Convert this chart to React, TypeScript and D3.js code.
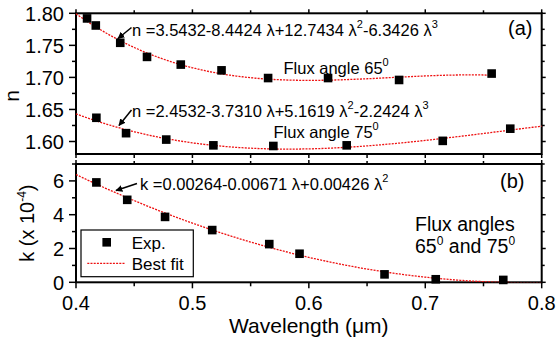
import * as d3 from 'd3';

// wavelength (um) and refractive index, flux angle 65 deg
const lambda65 = [0.4095, 0.417, 0.438, 0.461, 0.49, 0.525, 0.565, 0.6165, 0.6775, 0.757];
const n65 = [1.792, 1.781, 1.754, 1.732, 1.72, 1.711, 1.699, 1.699, 1.696, 1.706];

// flux angle 75 deg
const lambda75 = [0.4175, 0.443, 0.4775, 0.518, 0.5695, 0.6325, 0.715, 0.773];
const n75 = [1.637, 1.613, 1.603, 1.594, 1.593, 1.594, 1.601, 1.62];

// extinction coefficient k (x 10^-4)
const lambdaK = [0.4175, 0.444, 0.4765, 0.517, 0.566, 0.592, 0.665, 0.709, 0.767];
const kVals = [5.91, 4.88, 3.87, 3.09, 2.26, 1.69, 0.47, 0.18, 0.14];

// best-fit polynomial coefficients as printed on the chart
const fit65 = [3.5432, -8.4424, 12.7434, -6.3426];
const fit75 = [2.4532, -3.731, 5.1619, -2.2424];
const fitK = [0.00264, -0.00671, 0.00426];

const xTicks = [0.4, 0.5, 0.6, 0.7, 0.8];
const xMinor = [0.45, 0.55, 0.65, 0.75];
const nTicks = [1.6, 1.65, 1.7, 1.75, 1.8];
const nMinor = [1.625, 1.675, 1.725, 1.775];
const kTicks = [0, 2, 4, 6];
const kMinor = [1, 3, 5, 7];

const W = 556;
const H = 341;
const FONT = "'Liberation Sans', Arial, Helvetica, sans-serif";
const RED = '#ee1111';

const left = 76;
const right = 541.7;
const topA = 13.3;
const botA = 154;
const topB = 164;
const botB = 282.3;

const x = d3.scaleLinear().domain([0.4, 0.8]).range([left, right]);
const yN = d3.scaleLinear().domain([1.5805, 1.8]).range([botA, topA]);
const yK = d3.scaleLinear().domain([0, 7]).range([botB, topB]);

const poly = (c: number[], l: number) => c.reduce((s, a, i) => s + a * Math.pow(l, i), 0);

function Panel({ y, yt, ym, fmt, top, bot, showX }: any) {
  return (
    <g>
      <rect x={left} y={top} width={right - left} height={bot - top} fill="none" stroke="#000" strokeWidth={2} />
      {yt.map((t: number) => (
        <g key={'l' + t}>
          <line x1={left - 7} x2={left} y1={y(t)} y2={y(t)} stroke="#000" strokeWidth={1.5} />
          <line x1={right} x2={right + 4} y1={y(t)} y2={y(t)} stroke="#000" strokeWidth={1.5} />
          <text x={left - 12} y={y(t)} dy="0.36em" textAnchor="end" fontSize={20}>{fmt(t)}</text>
        </g>
      ))}
      {ym.map((t: number) => (
        <g key={'m' + t}>
          <line x1={left - 4} x2={left} y1={y(t)} y2={y(t)} stroke="#000" strokeWidth={1.5} />
          <line x1={right} x2={right + 3} y1={y(t)} y2={y(t)} stroke="#000" strokeWidth={1.5} />
        </g>
      ))}
      {xTicks.map((t) => (
        <g key={'x' + t}>
          <line x1={x(t)} x2={x(t)} y1={top} y2={top - 4} stroke="#000" strokeWidth={1.5} />
          <line x1={x(t)} x2={x(t)} y1={bot} y2={bot + (showX ? 6 : 4)} stroke="#000" strokeWidth={1.5} />
          {showX && (
            <text x={x(t)} y={bot + 28} textAnchor="middle" fontSize={20}>{t.toFixed(1)}</text>
          )}
        </g>
      ))}
      {xMinor.map((t) => (
        <g key={'xm' + t}>
          <line x1={x(t)} x2={x(t)} y1={top} y2={top - 3} stroke="#000" strokeWidth={1.5} />
          <line x1={x(t)} x2={x(t)} y1={bot} y2={bot + 4} stroke="#000" strokeWidth={1.5} />
        </g>
      ))}
    </g>
  );
}

// text with superscripts: parts alternate normal / superscript
function Rich({ parts, supSize = 11, raise = 8, ...rest }: any) {
  let up = false;
  return (
    <text {...rest}>
      {parts.map((p: string, i: number) => {
        const sup = i % 2 === 1;
        let dy = 0;
        if (sup && !up) { dy = -raise; up = true; }
        else if (!sup && up) { dy = raise; up = false; }
        return (
          <tspan key={i} dy={dy} fontSize={sup ? supSize : undefined}>{p}</tspan>
        );
      })}
    </text>
  );
}

function Markers({ xs, ys, y }: any) {
  return (
    <g>
      {xs.map((l: number, i: number) => (
        <rect key={i} x={x(l) - 4.3} y={y(ys[i]) - 4.3} width={8.6} height={8.6} fill="#000" />
      ))}
    </g>
  );
}

export default function App() {
  const line = (y: any) => d3.line<[number, number]>().x((d) => x(d[0])).y((d) => y(d[1]));
  const curve65 = d3.range(0.4, 0.7575, 0.0025).map((l) => [l, poly(fit65, l)] as [number, number]);
  const curve75 = d3.range(0.4, 0.8001, 0.0025).map((l) => [l, poly(fit75, l)] as [number, number]);
  const curveK = d3.range(0.4, 0.8001, 0.0025).map((l) => [l, poly(fitK, l) * 1e4] as [number, number]);

  return (
    <svg width={W} height={H} style={{ position: 'absolute', left: 0, top: 0, background: '#fff' }} fontFamily={FONT}>
      <defs>
        <marker id="ah" viewBox="0 0 10 10" refX="9" refY="5" markerWidth="7" markerHeight="7" orient="auto-start-reverse" markerUnits="userSpaceOnUse">
          <path d="M0,0 L10,5 L0,10 z" fill="#000" />
        </marker>
        <clipPath id="clipB">
          <rect x={left} y={topB} width={right - left} height={botB - topB} />
        </clipPath>
      </defs>

      <Panel y={yN} yt={nTicks} ym={nMinor} fmt={(t: number) => t.toFixed(2)} top={topA} bot={botA} showX={false} />
      <Panel y={yK} yt={kTicks} ym={kMinor} fmt={(t: number) => String(t)} top={topB} bot={botB} showX={true} />

      {/* fits */}
      <path d={line(yN)(curve65) || ''} fill="none" stroke={RED} strokeWidth={1.3} strokeDasharray="2 1.2" />
      <path d={line(yN)(curve75) || ''} fill="none" stroke={RED} strokeWidth={1.3} strokeDasharray="2 1.2" />
      <path d={line(yK)(curveK) || ''} fill="none" stroke={RED} strokeWidth={1.3} strokeDasharray="2 1.2" clipPath="url(#clipB)" />

      <Markers xs={lambda65} ys={n65} y={yN} />
      <Markers xs={lambda75} ys={n75} y={yN} />
      <Markers xs={lambdaK} ys={kVals} y={yK} />

      {/* annotations panel (a) */}
      <line x1={131.5} y1={27.5} x2={118} y2={38.5} stroke="#000" strokeWidth={1.5} markerEnd="url(#ah)" />
      <Rich x={132} y={36} fontSize={16.5} parts={['n =3.5432-8.4424 λ+12.7434 λ', '2', '-6.3426 λ', '3']} />
      <line x1={131.5} y1={110} x2={119} y2={125.5} stroke="#000" strokeWidth={1.5} markerEnd="url(#ah)" />
      <Rich x={132} y={116.5} fontSize={16.5} parts={['n =2.4532-3.7310 λ+5.1619 λ', '2', '-2.2424 λ', '3']} />
      <Rich x={283.5} y={74.3} fontSize={16.5} parts={['Flux angle 65', '0']} />
      <Rich x={273.5} y={138} fontSize={16.5} parts={['Flux angle 75', '0']} />
      <text x={508} y={35} fontSize={20}>(a)</text>

      {/* annotations panel (b) */}
      <line x1={137} y1={183.5} x2={116} y2={190.5} stroke="#000" strokeWidth={1.5} markerEnd="url(#ah)" />
      <Rich x={140} y={190} fontSize={16.5} parts={['k =0.00264-0.00671 λ+0.00426 λ', '2']} />
      <text x={500} y={188} fontSize={20}>(b)</text>
      <text x={415} y={231} fontSize={19.5}>Flux angles</text>
      <Rich x={415} y={252.5} fontSize={19.5} supSize={12} parts={['65', '0', ' and 75', '0']} />

      {/* legend */}
      <rect x={81} y={230} width={112.3} height={46.7} fill="#fff" stroke="#000" strokeWidth={1.2} />
      <rect x={106.7 - 4.3} y={242.3 - 4.3} width={8.6} height={8.6} fill="#000" />
      <text x={131.7} y={248.5} fontSize={17}>Exp.</text>
      <line x1={87.3} x2={125} y1={263.3} y2={263.3} stroke={RED} strokeWidth={1.3} strokeDasharray="2 1.2" />
      <text x={131.7} y={269.5} fontSize={17}>Best fit</text>

      {/* axis titles */}
      <text x={(left + right) / 2} y={333} textAnchor="middle" fontSize={21}>Wavelength (μm)</text>
      <text transform="translate(18.5,96) rotate(-90)" textAnchor="middle" fontSize={21}>n</text>
      <Rich transform={`translate(34,${(topB + botB) / 2}) rotate(-90)`} textAnchor="middle" fontSize={20} supSize={12}
        parts={['k (x 10', '-4', ')']} />
    </svg>
  );
}
